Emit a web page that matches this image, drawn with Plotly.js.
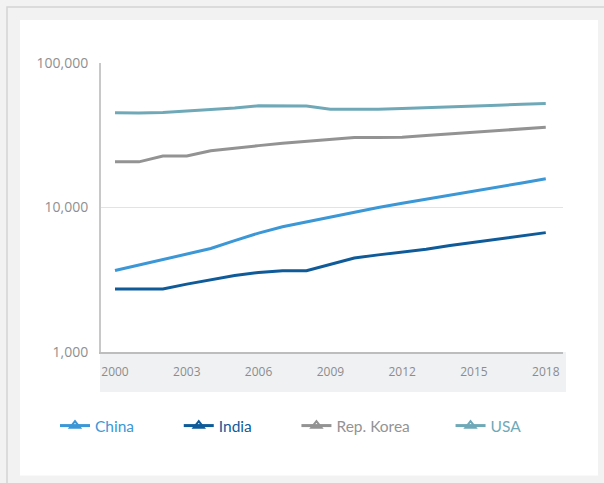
<!DOCTYPE html>
<html>
<head>
<meta charset="utf-8">
<script src="https://cdn.plot.ly/plotly-3.0.1.min.js"></script>
<style>html,body{margin:0;padding:0;background:#f2f2f2;}#chart{width:604px;height:483px;}</style>
</head>
<body>
<div id="chart"></div>
<script>
const years = [2000,2001,2002,2003,2004,2005,2006,2007,2008,2009,2010,2011,2012,2013,2014,2015,2016,2017,2018];
const china = [3660,4000,4370,4780,5200,5900,6650,7350,7950,8500,9300,10000,10700,11400,12100,12900,13800,14800,15800];
const india = [2730,2730,2730,2950,3150,3380,3550,3650,3650,4050,4470,4700,4900,5150,5450,5750,6050,6380,6700];
const korea = [20700,20700,22700,22700,24700,25800,26800,27800,28700,29500,30500,30500,30600,31500,32300,33200,34000,35000,35900];
const usa = [45200,45000,45500,46500,47500,48800,50600,50500,50400,47900,47800,47800,48500,49000,49700,50300,51000,51800,52500];
const seriesNames = ['China','India','Rep. Korea','USA'];
const seriesColors = ['#3b97d6','#0f5b9a','#939393','#6fa9b8'];
const xTicks = [2000,2003,2006,2009,2012,2015,2018];
const yTicks = [1000,10000,100000];
const yTickText = ['1,000','10,000','100,000'];

const seriesData = [china, india, korea, usa];
const legendPad = [10, 10, 9, 0];
const traces = [];
seriesData.forEach((vals, i) => {
  traces.push({x: years, y: vals, type: 'scatter', mode: 'lines', showlegend: false,
    line: {color: seriesColors[i], width: 3}, hoverinfo: 'skip'});
});
seriesNames.forEach((n, i) => {
  traces.push({x: [null], y: [null], type: 'scatter', mode: 'lines+markers',
    name: '<span style="color:' + seriesColors[i] + '">' + n + '</span>' + '&nbsp;'.repeat(legendPad[i]),
    line: {color: seriesColors[i], width: 3},
    marker: {symbol: 'triangle-up-open', size: 9, color: seriesColors[i], line: {width: 2, color: seriesColors[i]}}});
});

// plot area: left 101, right 563, top 63, bottom 352
const L = 101, R = 563, T = 63, B = 352, W = R - L, H = B - T;
const px = v => (v - L) / W;
const py = v => (B - v) / H;

const layout = {
  width: 604, height: 483,
  margin: {l: L, r: 604 - R, t: T, b: 483 - B, pad: 0},
  paper_bgcolor: '#f2f2f2',
  plot_bgcolor: 'rgba(0,0,0,0)',
  showlegend: true,
  legend: {orientation: 'h', x: px(55), xanchor: 'left', y: py(426), yanchor: 'middle',
    font: {family: 'Lato', size: 15.5}, bgcolor: 'rgba(0,0,0,0)', itemwidth: 30, tracegroupgap: 0},
  xaxis: {range: [1999.415, 2018.72], tickvals: xTicks, ticktext: xTicks.map(String),
    showgrid: false, zeroline: false, showline: true, linecolor: '#bdbdbd', linewidth: 2,
    ticks: 'outside', ticklen: 8, tickcolor: 'rgba(0,0,0,0)',
    tickfont: {family: 'Open Sans', size: 12, color: '#8c8c8c'}, fixedrange: true},
  yaxis: {type: 'log', range: [3, 5], tickvals: yTicks, ticktext: yTickText,
    showgrid: true, gridcolor: '#e3e3e3', gridwidth: 1, zeroline: false,
    showline: true, linecolor: '#c8c8c8', linewidth: 2,
    ticks: 'outside', ticklen: 8, tickcolor: 'rgba(0,0,0,0)',
    tickfont: {family: 'Open Sans', size: 14, color: '#8f8f8f'}, fixedrange: true},
  shapes: [
    {type: 'rect', xref: 'paper', yref: 'paper', layer: 'below',
      x0: px(7), x1: px(620), y0: py(500), y1: py(7),
      fillcolor: '#f2f2f2', line: {color: '#d4d4d4', width: 1.5}},
    {type: 'rect', xref: 'paper', yref: 'paper', layer: 'below',
      x0: px(20), x1: px(598), y0: py(475.5), y1: py(20),
      fillcolor: '#ffffff', line: {width: 0}},
    {type: 'rect', xref: 'paper', yref: 'paper', layer: 'below',
      x0: px(100), x1: px(566), y0: py(392), y1: py(352),
      fillcolor: '#f0f1f3', line: {width: 0}}
  ]
};

Plotly.newPlot('chart', traces, layout, {displayModeBar: false, staticPlot: true});
</script>
</body>
</html>
